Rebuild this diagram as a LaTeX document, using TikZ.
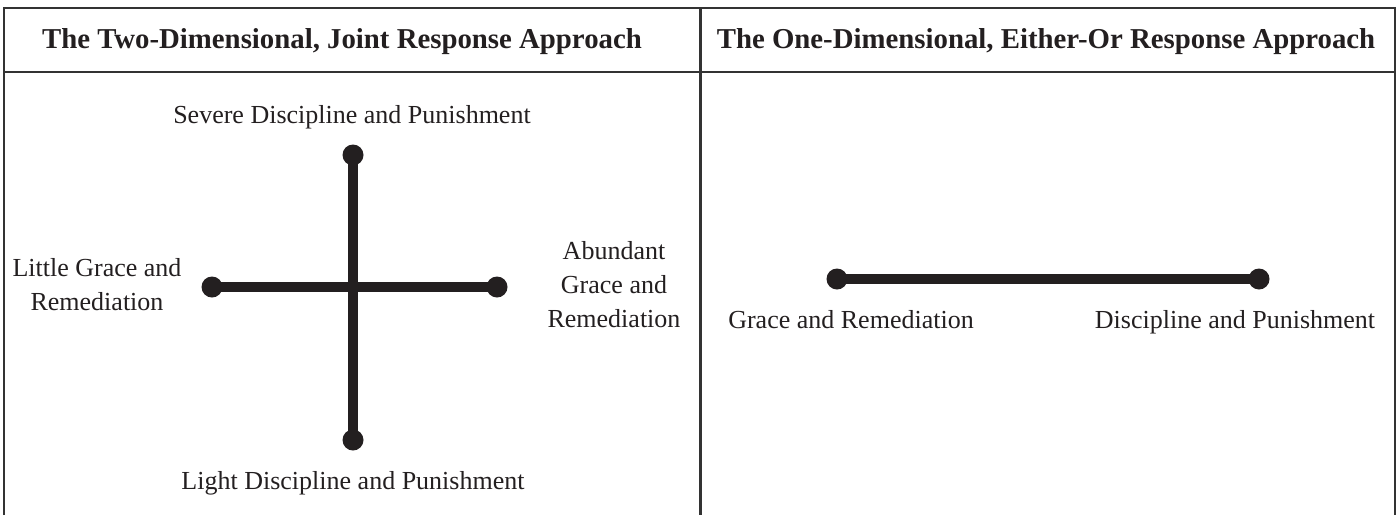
\documentclass[tikz,border=0pt]{standalone}
\usepackage{fontspec}
\setmainfont{Liberation Serif}
\definecolor{ink}{HTML}{231F20}
\definecolor{rulecol}{HTML}{333333}
\tikzset{
  dot/.style={circle, fill=ink, inner sep=0pt, minimum size=10.5pt},
  bar/.style={ink, line width=5pt},
  frame/.style={rulecol, line width=1.25pt},
  lbl/.style={font=\fontsize{13}{17}\selectfont, text=ink, align=center, inner sep=0pt},
  head/.style={font=\fontsize{14.4}{17}\selectfont\bfseries, text=ink, inner sep=0pt},
}
\begin{document}
\begin{tikzpicture}[x=0.5pt, y=-0.5pt]
    \useasboundingbox (0,0) rectangle (1397,515);
    % table frame, open at the bottom
    \draw[frame] (4,515) -- (4,8) -- (1395,8) -- (1395,515);
    \draw[frame] (4,72) -- (1395,72);
    \draw[frame] (700.5,8) -- (700.5,515);
    % column headings
    \node[head] (headL) at (342,42) {The Two-Dimensional, Joint Response Approach};
    \node[head] (headR) at (1046,42) {The One-Dimensional, Either-Or Response Approach};
    % left: two crossing axes
    \node[dot] (sev) at (353,155) {};
    \node[dot] (lgt) at (353,440) {};
    \node[dot] (ltl) at (212,287) {};
    \node[dot] (abd) at (497,287) {};
    \draw[bar] (sev.center) -- (lgt.center);
    \draw[bar] (ltl.center) -- (abd.center);
    \node[lbl] (sevtxt) at (352,117) {Severe Discipline and Punishment};
    \node[lbl] (lgttxt) at (353,483) {Light Discipline and Punishment};
    \node[lbl] (ltltxt) at (97,285) {Little Grace and\\Remediation};
    \node[lbl] (abdtxt) at (614,285) {Abundant\\Grace and\\Remediation};
    % right: one axis
    \node[dot] (grc) at (837,279) {};
    \node[dot] (dsc) at (1259,279) {};
    \draw[bar] (grc.center) -- (dsc.center);
    \node[lbl, anchor=base] (grctxt) at (851,328) {Grace and Remediation};
    \node[lbl, anchor=base] (dsctxt) at (1235,328) {Discipline and Punishment};
\end{tikzpicture}
\end{document}
